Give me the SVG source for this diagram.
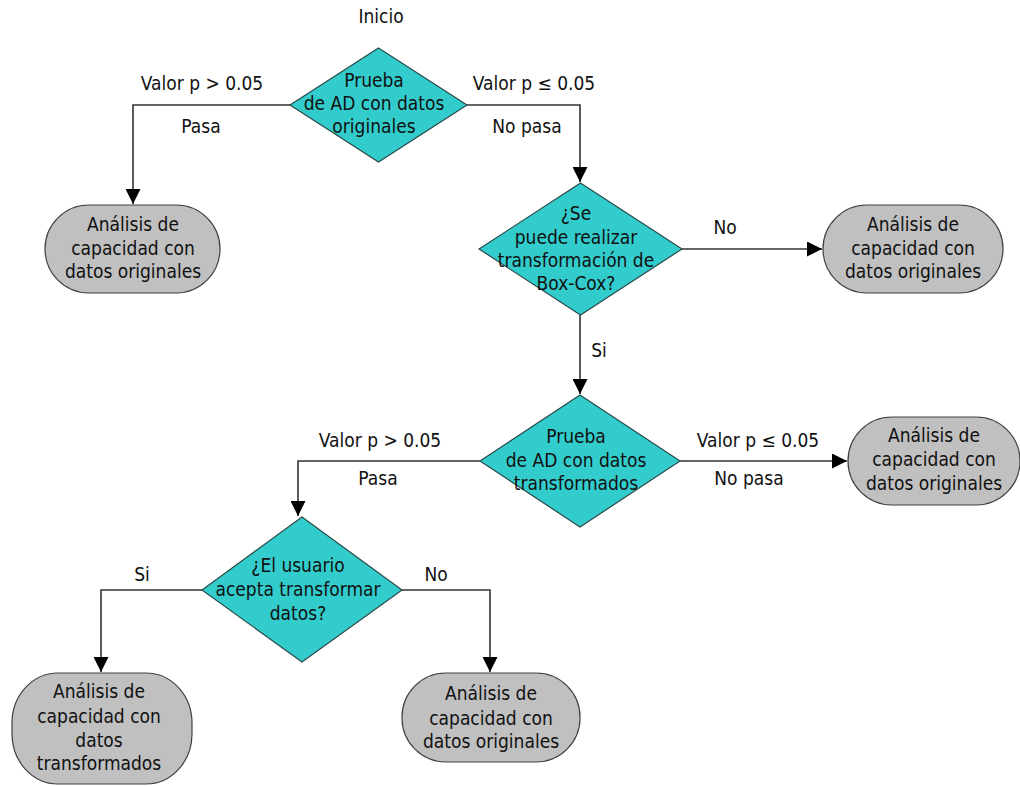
<svg xmlns="http://www.w3.org/2000/svg" width="1020" height="786" viewBox="0 0 1020 786">
<style>
text{font-family:"DejaVu Sans Condensed","DejaVu Sans",sans-serif;font-stretch:condensed;font-size:19px;fill:#111;text-anchor:middle}
.dia{fill:#33CCCC;stroke:#2a4a4a;stroke-width:1.2}
.term{fill:#C0C0C0;stroke:#404040;stroke-width:1.2}
.con{fill:none;stroke:#333;stroke-width:1.6}
</style>
<defs>
<marker id="arr" markerUnits="userSpaceOnUse" markerWidth="15" markerHeight="15" refX="15" refY="7.5" orient="auto">
<path d="M0,0 L15,7.5 L0,15 z" fill="#000"/>
</marker>
</defs>
<rect width="1020" height="786" fill="#fff"/>
<g id="connectors">
<polyline class="con" points="290,105 133,105 133,204" marker-end="url(#arr)"/>
<polyline class="con" points="467,105 580,105 580,182" marker-end="url(#arr)"/>
<polyline class="con" points="682,249 822,249" marker-end="url(#arr)"/>
<polyline class="con" points="580,315 580,394" marker-end="url(#arr)"/>
<polyline class="con" points="680,461 847,461" marker-end="url(#arr)"/>
<polyline class="con" points="480,461 298,461 298,516" marker-end="url(#arr)"/>
<polyline class="con" points="202,590 101,590 101,672" marker-end="url(#arr)"/>
<polyline class="con" points="402,590 490,590 490,672" marker-end="url(#arr)"/>
</g>
<g id="labels">
<text x="381" y="23">Inicio</text>
<text x="202" y="90">Valor p &gt; 0.05</text>
<text x="201" y="133">Pasa</text>
<text x="534" y="90">Valor p ≤ 0.05</text>
<text x="527" y="133">No pasa</text>
<text x="725" y="234">No</text>
<text x="599" y="357">Si</text>
<text x="380" y="447">Valor p &gt; 0.05</text>
<text x="378" y="485">Pasa</text>
<text x="758" y="447">Valor p ≤ 0.05</text>
<text x="749" y="485">No pasa</text>
<text x="142" y="581">Si</text>
<text x="436" y="581">No</text>
</g>
<g id="d1">
<polygon class="dia" points="378.5,48 467,105 378.5,162 290,105"/>
<text x="374" y="87">Prueba</text>
<text x="374" y="110">de AD con datos</text>
<text x="374" y="133">originales</text>
</g>
<g id="d2">
<polygon class="dia" points="580.5,183 682,249 580.5,315 479,249"/>
<text x="576" y="220">¿Se</text>
<text x="576" y="244">puede realizar</text>
<text x="576" y="267">transformación de</text>
<text x="576" y="290">Box-Cox?</text>
</g>
<g id="d3">
<polygon class="dia" points="580,395 680,461 580,527 480,461"/>
<text x="576" y="443">Prueba</text>
<text x="576" y="467">de AD con datos</text>
<text x="576" y="490">transformados</text>
</g>
<g id="d4">
<polygon class="dia" points="302,517 402,590 302,662 202,590"/>
<text x="298" y="572">¿El usuario</text>
<text x="298" y="596">acepta transformar</text>
<text x="298" y="620">datos?</text>
</g>
<g id="t1">
<rect class="term" x="45" y="205" width="175" height="88" rx="44" ry="44"/>
<text x="133" y="231">Análisis de</text>
<text x="133" y="255">capacidad con</text>
<text x="133" y="278">datos originales</text>
</g>
<g id="t2">
<rect class="term" x="823" y="205" width="180" height="88" rx="44" ry="44"/>
<text x="913" y="231">Análisis de</text>
<text x="913" y="255">capacidad con</text>
<text x="913" y="278">datos originales</text>
</g>
<g id="t3">
<rect class="term" x="848" y="417" width="172" height="88" rx="44" ry="44"/>
<text x="934" y="442">Análisis de</text>
<text x="934" y="466">capacidad con</text>
<text x="934" y="490">datos originales</text>
</g>
<g id="t4">
<rect class="term" x="12" y="673" width="180" height="111" rx="46" ry="50"/>
<text x="99" y="698">Análisis de</text>
<text x="99" y="723">capacidad con</text>
<text x="99" y="747">datos</text>
<text x="99" y="770">transformados</text>
</g>
<g id="t5">
<rect class="term" x="402" y="673" width="178" height="89" rx="44" ry="44"/>
<text x="491" y="700">Análisis de</text>
<text x="491" y="725">capacidad con</text>
<text x="491" y="748">datos originales</text>
</g>
</svg>
